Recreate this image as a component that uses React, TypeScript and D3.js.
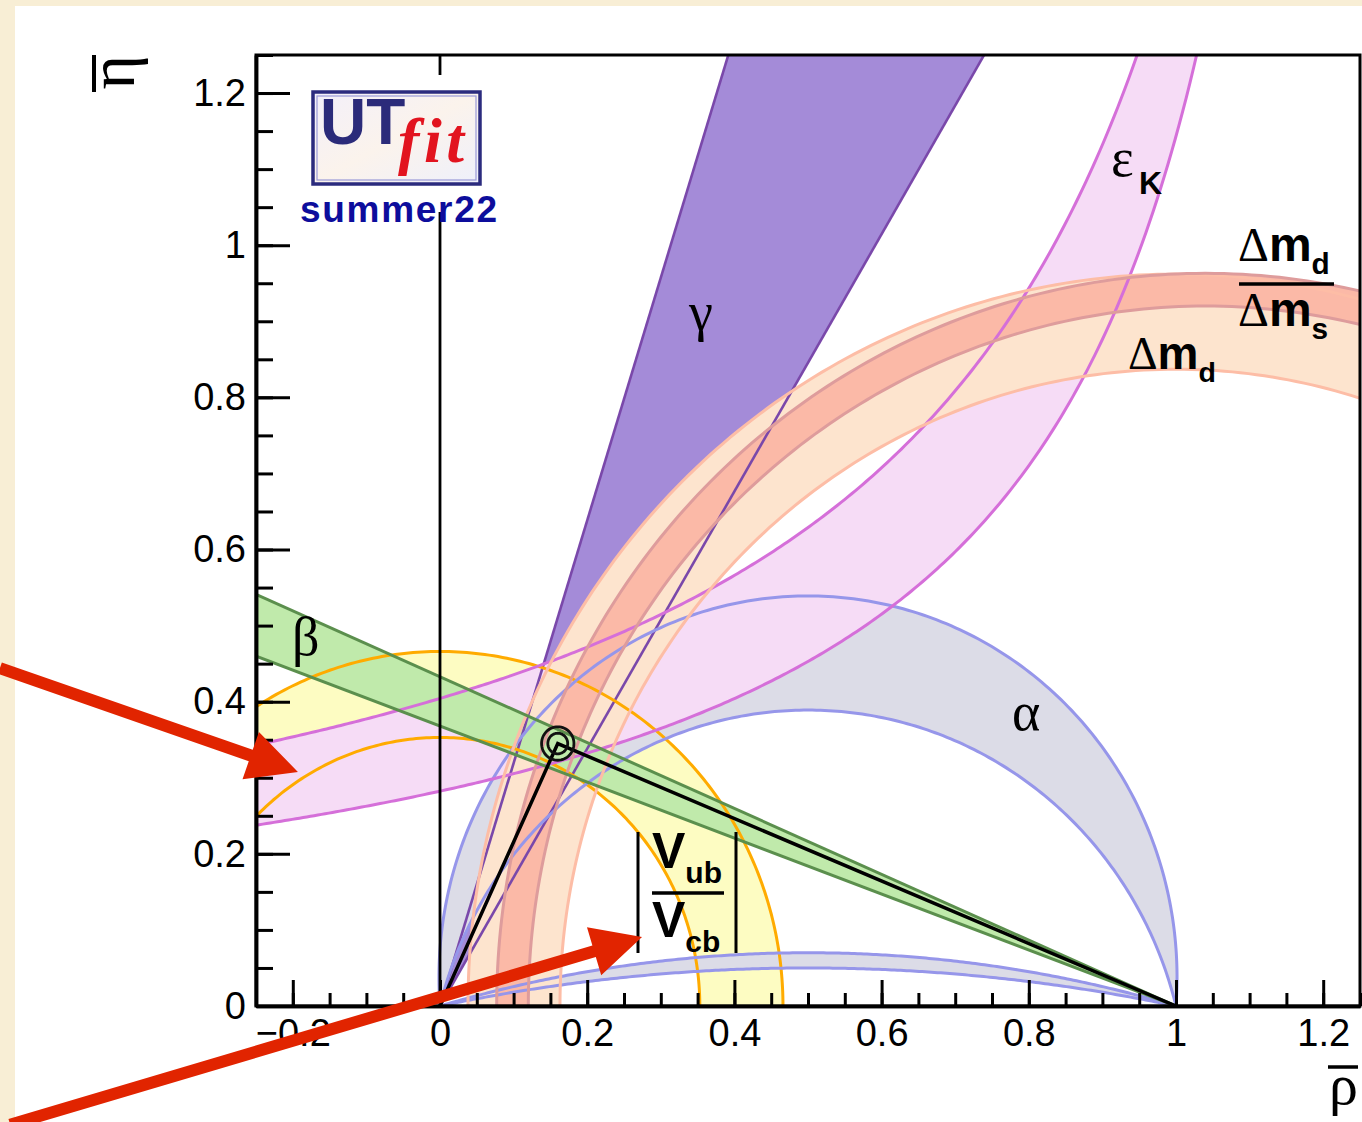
import React, { useEffect, useRef } from "react";
import * as d3 from "d3";

const W = 1362;
const H = 1122;

// axis ranges, rho-bar horizontally, eta-bar vertically
const xDomain = [-0.25, 1.25];
const yDomain = [0, 1.25];
const xMajor = [-0.2, 0, 0.2, 0.4, 0.6, 0.8, 1, 1.2];
const xTickLabels = ["\u22120.2", "0", "0.2", "0.4", "0.6", "0.8", "1", "1.2"];
const yMajor = [0, 0.2, 0.4, 0.6, 0.8, 1, 1.2];
const yTickLabels = ["0", "0.2", "0.4", "0.6", "0.8", "1", "1.2"];

// constraint bands (95% regions)
const vubRadii = [0.353, 0.466]; // |Vub/Vcb| : circles round (0,0)
const dmdCenter = 1.0;
const dmdRadii = [0.837, 0.962]; // dm_d : circles round (1,0)
const dmRatioCenter = 1.04;
const dmRatioRadii = [0.92, 0.963]; // dm_d / dm_s
const gammaAngles = [59.4, 72.6]; // deg, rays from (0,0)
const betaAngles = [20.2, 23.4]; // deg, rays from (1,0)
const alphaUpperPeaks = [0.389, 0.539]; // arcs through (0,0),(1,0): height at rho=0.5
const alphaLowerPeaks = [0.05, 0.07];
const epsKUpper = [1.4, 0.566]; // eta = b / (a - rho)
const epsKLower = [1.328, 0.375];
const apex = [0.16, 0.345];
const apexContours = [0.0135, 0.022];

// red arrows on the slide: [rho0, eta0, rho tip, eta tip]
const arrows = [
  [-0.598, 0.444, -0.193, 0.3076],
  [-0.584, -0.156, 0.2745, 0.0907],
];

const SANS = "'Liberation Sans', Arial, Helvetica, sans-serif";
const SERIF = "'Liberation Serif', 'Times New Roman', serif";

export default function App() {
  const ref = useRef<SVGSVGElement>(null);

  useEffect(() => {
    const svg = d3.select(ref.current);
    svg.selectAll("*").remove();

    const left = 256, right = 1360, top = 55, bottom = 1006;
    const x = d3.scaleLinear().domain(xDomain).range([left, right]);
    const y = d3.scaleLinear().domain(yDomain).range([bottom, top]);

    // page
    svg.append("rect").attr("width", W).attr("height", H).attr("fill", "#f8eed5");
    svg.append("rect").attr("x", 15).attr("y", 6).attr("width", W - 15).attr("height", H - 6).attr("fill", "#fff");

    svg.append("clipPath").attr("id", "plotclip")
      .append("rect").attr("x", left).attr("y", top).attr("width", right - left).attr("height", bottom - top);

    const plot = svg.append("g").attr("clip-path", "url(#plotclip)");

    const line = d3.line<number[]>().x(d => x(d[0])).y(d => y(d[1]));
    const arcPts = (cx: number, cy: number, r: number, t0: number, t1: number) =>
      d3.range(0, 241).map(i => {
        const t = t0 + (t1 - t0) * i / 240;
        return [cx + r * Math.cos(t), cy + r * Math.sin(t)];
      });
    const ring = (c: number, r: number) => arcPts(c, 0, r, 0, Math.PI);
    const alphaArc = (h: number) => {
      const k = (h * h - 0.25) / (2 * h);
      const r = h - k;
      const t0 = Math.atan2(-k, 0.5);
      return arcPts(0.5, k, r, t0, Math.PI - t0);
    };
    const hyper = (p: number[]) => {
      const [a, b] = p;
      const end = a - b / 1.6;
      return d3.range(0, 301).map(i => {
        const rho = -0.4 + (end + 0.4) * i / 300;
        return [rho, b / (a - rho)];
      });
    };
    const rad = (deg: number) => deg * Math.PI / 180;
    const gammaRay = (deg: number) => [[0, 0], [3 * Math.cos(rad(deg)), 3 * Math.sin(rad(deg))]];
    const betaRay = (deg: number) => [[1, 0], [1 - 3 * Math.cos(rad(deg)), 3 * Math.sin(rad(deg))]];

    const band = (pts: number[][], fill: string) =>
      plot.append("path").attr("d", line(pts) + "Z").attr("fill", fill).attr("stroke", "none");
    const edge = (pts: number[][], col: string, w = 3) =>
      plot.append("path").attr("d", line(pts)).attr("fill", "none").attr("stroke", col).attr("stroke-width", w);

    const gammaFill = "#a48bd8", gammaLine = "#7a48aa";
    const vubFill = "#fdfcc2", vubLine = "#ffab00";
    const alphaFill = "#dcdce7", alphaLine = "#9696ea";
    const epsFill = "#f6dcf6", epsLine = "#d56fd9";
    const dmdFill = "#fde4ce", dmdLine = "#fdbda6";
    const dmrFill = "#fbb9a7", dmrLine = "#de9c9c";
    const betaFill = "#c0eaab", betaLine = "#5b8f4d";

    // fills
    band([[0, 0], gammaRay(gammaAngles[0])[1], gammaRay(gammaAngles[1])[1]], gammaFill);
    band(ring(0, vubRadii[1]).concat(ring(0, vubRadii[0]).reverse()), vubFill);
    band(alphaArc(alphaUpperPeaks[1]).concat(alphaArc(alphaUpperPeaks[0]).reverse()), alphaFill);
    band(alphaArc(alphaLowerPeaks[1]).concat(alphaArc(alphaLowerPeaks[0]).reverse()), alphaFill);
    band(hyper(epsKUpper).concat(hyper(epsKLower).reverse()), epsFill);
    band(ring(dmdCenter, dmdRadii[1]).concat(ring(dmdCenter, dmdRadii[0]).reverse()), dmdFill);
    band(ring(dmRatioCenter, dmRatioRadii[1]).concat(ring(dmRatioCenter, dmRatioRadii[0]).reverse()), dmrFill);
    band([[1, 0], betaRay(betaAngles[0])[1], betaRay(betaAngles[1])[1]], betaFill);

    // contour lines
    gammaAngles.forEach(a => edge(gammaRay(a), gammaLine, 2.6));
    vubRadii.forEach(r => edge(ring(0, r), vubLine));
    alphaUpperPeaks.concat(alphaLowerPeaks).forEach(h => edge(alphaArc(h), alphaLine));
    [epsKUpper, epsKLower].forEach(p => edge(hyper(p), epsLine));
    dmdRadii.forEach(r => edge(ring(dmdCenter, r), dmdLine));
    dmRatioRadii.forEach(r => edge(ring(dmRatioCenter, r), dmrLine));
    betaAngles.forEach(a => edge(betaRay(a), betaLine));

    // rho = 0 line
    plot.append("line").attr("x1", x(0)).attr("x2", x(0)).attr("y1", y(0)).attr("y2", y(1.25))
      .attr("stroke", "#000").attr("stroke-width", 2.8);

    // triangle + apex contours
    plot.append("path").attr("d", line([[0, 0], apex, [1, 0]]))
      .attr("fill", "none").attr("stroke", "#000").attr("stroke-width", 3.5);
    apexContours.forEach(r =>
      plot.append("path")
        .attr("d", d3.range(0, 61).map((i, j) => {
          const t = i / 60 * 2 * Math.PI;
          const px = x(apex[0]) + r * 736 * Math.cos(t);
          const py = y(apex[1]) - r * 760.8 * Math.sin(t);
          return (j ? "L" : "M") + px + "," + py;
        }).join("") + "Z")
        .attr("fill", "none").attr("stroke", "#111").attr("stroke-width", 2.8));

    // axes
    const xMinor = d3.range(-5, 26).map(i => i * 0.05);
    const yMinor = d3.range(0, 26).map(i => i * 0.05);
    const axisStyle = (g: any) => {
      g.attr("font-family", SANS).attr("font-size", 38);
      g.selectAll("line").attr("stroke", "#000").attr("stroke-width", 3);
      g.selectAll("path").attr("stroke", "#000").attr("stroke-width", 3.5);
    };
    svg.append("g").attr("transform", `translate(0,${bottom})`)
      .call(d3.axisBottom(x).tickValues(xMinor).tickSize(-13).tickSizeOuter(0).tickFormat(() => ""))
      .call(axisStyle);
    svg.append("g").attr("transform", `translate(0,${bottom})`)
      .call(d3.axisBottom(x).tickValues(xMajor).tickSize(-26).tickSizeOuter(0).tickPadding(13)
        .tickFormat((d, i) => xTickLabels[i]))
      .call(axisStyle);
    svg.append("g").attr("transform", `translate(${left},0)`)
      .call(d3.axisLeft(y).tickValues(yMinor).tickSize(-17).tickSizeOuter(0).tickFormat(() => ""))
      .call(axisStyle);
    svg.append("g").attr("transform", `translate(${left},0)`)
      .call(d3.axisLeft(y).tickValues(yMajor).tickSize(-34).tickSizeOuter(0).tickPadding(10)
        .tickFormat((d, i) => yTickLabels[i]))
      .call(axisStyle);

    svg.append("rect").attr("x", left).attr("y", top).attr("width", right - left).attr("height", bottom - top)
      .attr("fill", "none").attr("stroke", "#000").attr("stroke-width", 3);

    // axis titles
    const eta = svg.append("g").attr("transform", "translate(134,55) rotate(-90)");
    eta.append("text").attr("x", 0).attr("y", 0).attr("text-anchor", "end")
      .attr("font-family", SERIF).attr("font-size", 66).text("\u03b7");
    eta.append("line").attr("x1", -37).attr("x2", 0).attr("y1", -40).attr("y2", -40)
      .attr("stroke", "#000").attr("stroke-width", 4);
    svg.append("text").attr("x", 1358).attr("y", 1104).attr("text-anchor", "end")
      .attr("font-family", SERIF).attr("font-size", 58).text("\u03c1");
    svg.append("line").attr("x1", 1328).attr("x2", 1358).attr("y1", 1067).attr("y2", 1067)
      .attr("stroke", "#000").attr("stroke-width", 3.5);

    // band labels
    const greek = (t: string, px: number, py: number) =>
      svg.append("text").attr("x", px).attr("y", py).attr("font-family", SERIF).attr("font-size", 54).text(t);
    greek("\u03b2", 292, 655);
    greek("\u03b3", 689, 330);
    greek("\u03b1", 1012, 730);
    greek("\u03b5", 1111, 176);
    svg.append("text").attr("x", 1139).attr("y", 194).attr("font-family", SANS).attr("font-weight", "bold")
      .attr("font-size", 32).text("K");

    const dm = (px: number, py: number, sub: string, fs: number) => {
      const t = svg.append("text").attr("x", px).attr("y", py).attr("font-size", fs);
      t.append("tspan").attr("font-family", SERIF).text("\u0394");
      t.append("tspan").attr("font-family", SANS).attr("font-weight", "bold").text("m");
      t.append("tspan").attr("font-family", SANS).attr("font-weight", "bold").attr("font-size", fs * 0.62)
        .attr("dy", 13).text(sub);
    };
    dm(1238, 261, "d", 48);
    svg.append("line").attr("x1", 1239).attr("x2", 1334).attr("y1", 284).attr("y2", 284)
      .attr("stroke", "#000").attr("stroke-width", 3.5);
    dm(1238, 326, "s", 48);
    dm(1128, 369, "d", 46);

    // |Vub / Vcb|
    [638, 736].forEach(px => svg.append("line").attr("x1", px).attr("x2", px).attr("y1", 832).attr("y2", 953)
      .attr("stroke", "#000").attr("stroke-width", 3));
    const vv = (py: number, sub: string) => {
      const t = svg.append("text").attr("x", 652).attr("y", py).attr("font-family", SANS)
        .attr("font-weight", "bold").attr("font-size", 50);
      t.append("tspan").text("V");
      t.append("tspan").attr("font-size", 30).attr("dy", 15).text(sub);
    };
    vv(868, "ub");
    svg.append("line").attr("x1", 652).attr("x2", 724).attr("y1", 893).attr("y2", 893)
      .attr("stroke", "#000").attr("stroke-width", 3.5);
    vv(937, "cb");

    // logo
    svg.append("rect").attr("x", 300).attr("y", 75).attr("width", 200).attr("height", 137).attr("fill", "#fff");
    const grad = svg.append("linearGradient").attr("id", "logobg").attr("x1", 0).attr("y1", 0).attr("x2", 1).attr("y2", 1);
    grad.append("stop").attr("offset", 0).attr("stop-color", "#f3f0fa");
    grad.append("stop").attr("offset", 0.5).attr("stop-color", "#fbf3ec");
    grad.append("stop").attr("offset", 1).attr("stop-color", "#eef0fb");
    svg.append("rect").attr("x", 313).attr("y", 92).attr("width", 167).attr("height", 92)
      .attr("fill", "url(#logobg)").attr("stroke", "#2b2b7e").attr("stroke-width", 3.5);
    svg.append("rect").attr("x", 317).attr("y", 96).attr("width", 159).attr("height", 84)
      .attr("fill", "none").attr("stroke", "#9a9ad8").attr("stroke-width", 1.2);
    svg.append("text").attr("x", 320).attr("y", 144).attr("font-family", SANS).attr("font-weight", "bold")
      .attr("font-size", 64).attr("fill", "#2b2b7a").text("UT");
    svg.append("text").attr("x", 398).attr("y", 162).attr("font-family", SERIF).attr("font-style", "italic")
      .attr("font-weight", "bold").attr("font-size", 64).attr("fill", "#e2141f")
      .attr("textLength", 66).attr("lengthAdjust", "spacing").text("fit");
    svg.append("text").attr("x", 300).attr("y", 222).attr("font-family", SANS).attr("font-weight", "bold")
      .attr("font-size", 37).attr("fill", "#0d0d9c").attr("textLength", 197).text("summer22");

    // red arrows
    arrows.forEach(a => {
      const x0 = x(a[0]), y0 = y(a[1]), x1 = x(a[2]), y1 = y(a[3]);
      const len = Math.hypot(x1 - x0, y1 - y0);
      const ux = (x1 - x0) / len, uy = (y1 - y0) / len;
      const hl = 50, hw = 25, sw = 6;
      const bx = x1 - hl * ux, by = y1 - hl * uy;
      const pts = [
        [x0 - uy * sw, y0 + ux * sw], [bx - uy * sw, by + ux * sw], [bx - uy * hw, by + ux * hw],
        [x1, y1],
        [bx + uy * hw, by - ux * hw], [bx + uy * sw, by - ux * sw], [x0 + uy * sw, y0 - ux * sw],
      ];
      svg.append("path").attr("d", "M" + pts.map(p => p.join(",")).join("L") + "Z").attr("fill", "#e12400");
    });
  }, []);

  return <svg ref={ref} width={W} height={H} style={{ position: "absolute", left: 0, top: 0, display: "block" }} />;
}
